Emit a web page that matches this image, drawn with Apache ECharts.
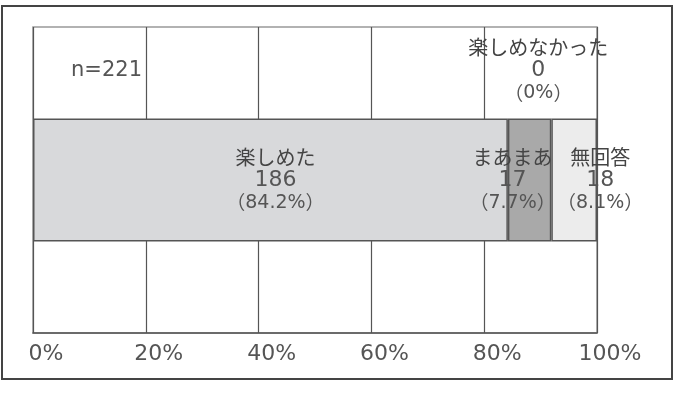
<!DOCTYPE html>
<html>
<head>
<meta charset="utf-8">
<script src="https://cdn.jsdelivr.net/npm/echarts@6/dist/echarts.min.js"></script>
<style>
    html, body { margin: 0; padding: 0; background: #ffffff; }
    #main { width: 676px; height: 398px; }
</style>
</head>
<body>
<div id="main"></div>
<script>
    // 回答の内訳（n=221）
    var names = ['楽しめた', 'まあまあ', '楽しめなかった', '無回答'];
    var counts = ['186', '17', '0', '18'];
    var pcts = [84.2, 7.7, 0, 8.1];
    var pctText = ['84.2', '7.7', '0', '8.1'];
    var colors = ['#d8d9db', '#a9a9a9', '#ffffff', '#ececec'];
    var xTicks = ['0%', '20%', '40%', '60%', '80%', '100%'];

    // label placement for each segment
    var labelPos = ['inside', 'inside', 'top', 'inside'];
    var labelOffset = [[5, 0], [-17, 0], [-13, -48], [26, 0]];

    var CJK = '"Noto Sans CJK JP", sans-serif';
    var LAT = '"DejaVu Sans", sans-serif';

    var series = [];
    for (var i = 0; i < names.length; ++i) {
        series.push({
            name: names[i],
            type: 'bar',
            stack: 'all',
            barWidth: 123,
            data: [pcts[i]],
            itemStyle: {
                color: colors[i],
                borderColor: '#555',
                borderWidth: pcts[i] > 0 ? 1.5 : 0
            },
            label: {
                show: true,
                position: labelPos[i],
                distance: 0,
                offset: labelOffset[i],
                align: 'center',
                verticalAlign: 'middle',
                color: '#444',
                lineHeight: 23,
                rich: {
                    n: { fontFamily: CJK, fontSize: 20, lineHeight: 23, color: '#444' },
                    c: { fontFamily: LAT, fontSize: 22, lineHeight: 23, color: '#555' },
                    p: { fontFamily: CJK, fontSize: 19, lineHeight: 23, color: '#555' },
                    d: { fontFamily: LAT, fontSize: 19, lineHeight: 23, color: '#555' }
                },
                formatter: (function (k) {
                    return function () {
                        return '{n|' + names[k] + '}\n{c|' + counts[k] + '}\n' +
                            '{p|（}{d|' + pctText[k] + '%}{p|）}';
                    };
                })(i)
            },
            silent: true
        });
    }

    var option = {
        animation: false,
        grid: {
            left: 33,
            right: 79,
            top: 27,
            bottom: 65,
            show: true,
            borderColor: '#999',
            borderWidth: 1.5
        },
        xAxis: {
            type: 'value',
            min: 0,
            max: 100,
            interval: 20,
            axisLine: { show: true, lineStyle: { color: '#555', width: 1.5 } },
            axisTick: { show: false },
            splitLine: { show: true, lineStyle: { color: '#555', width: 1.2 } },
            axisLabel: {
                margin: 10,
                fontFamily: LAT,
                fontSize: 22,
                color: '#555',
                padding: [0, 0, 0, 26],
                formatter: function (v) {
                    return xTicks[v / 20];
                }
            }
        },
        yAxis: {
            type: 'category',
            data: [''],
            axisLine: { show: false },
            axisTick: { show: false },
            axisLabel: { show: false }
        },
        graphic: [
            {
                type: 'rect',
                shape: { x: 2, y: 6, width: 670, height: 373 },
                style: { fill: 'none', stroke: '#444', lineWidth: 2 },
                silent: true
            },
            {
                type: 'text',
                x: 142,
                y: 71,
                style: {
                    text: 'n=221',
                    align: 'right',
                    verticalAlign: 'middle',
                    fontFamily: LAT,
                    fontSize: 21,
                    fill: '#555'
                },
                silent: true
            }
        ],
        series: series
    };

    var myChart = echarts.init(document.getElementById('main'));
    myChart.setOption(option);
</script>
</body>
</html>
